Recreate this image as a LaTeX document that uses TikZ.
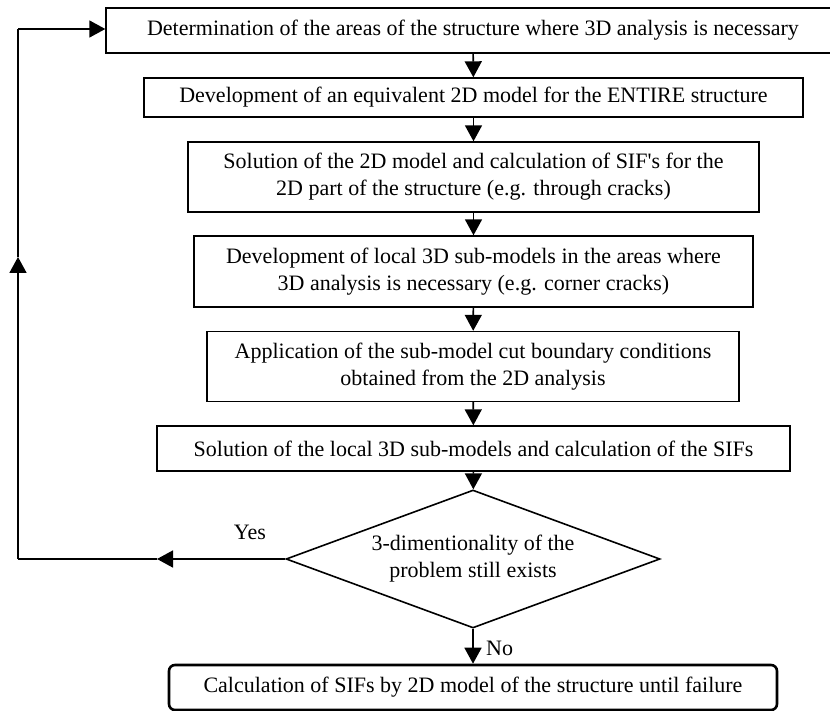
\documentclass[tikz,border=0pt]{standalone}
\usepackage{fontspec}
\setmainfont{Liberation Serif}
\usetikzlibrary{arrows.meta,shapes.geometric}

\begin{document}
\begin{tikzpicture}[x=1pt,y=-1pt,
        bx/.style={draw,line width=1.4pt,font=\fontsize{22}{27}\selectfont,
                   align=center,inner sep=0pt},
        dia/.style={diamond,draw,line width=1.6pt,aspect=2.7,inner sep=0pt,
                   minimum width=374pt,minimum height=138pt,
                   font=\fontsize{22}{27}\selectfont,align=center},
        lbl/.style={font=\fontsize{22}{26}\selectfont,inner sep=0pt},
        arr/.style={-{Triangle[length=16pt,width=17pt]},line width=1.6pt},
        ln/.style={line width=1.6pt}
      ]
        \clip (0,0) rectangle (830,711);
        \node[bx,minimum width=734pt,minimum height=45pt] (s1) at (473,30.5)
          {Determination of the areas of the structure where 3D analysis is necessary};
        \node[bx,minimum width=659pt,minimum height=39pt] (s2) at (473.5,97.5)
          {Development of an equivalent 2D model for the ENTIRE structure};
        \node[bx,minimum width=571pt,minimum height=70pt] (s3) at (473.5,177)
          {Solution of the 2D model and calculation of SIF\textquotesingle s for the\\2D part of the structure (e.g. through cracks)};
        \node[bx,minimum width=559pt,minimum height=71pt] (s4) at (473.5,271.5)
          {Development of local 3D sub-models in the areas where\\3D analysis is necessary (e.g. corner cracks)};
        \node[bx,minimum width=532pt,minimum height=70pt] (s5) at (473,366.5)
          {Application of the sub-model cut boundary conditions\\obtained from the 2D analysis};
        \node[bx,minimum width=633pt,minimum height=45pt] (s6) at (473.5,448.5)
          {Solution of the local 3D sub-models and calculation of the SIFs};
        \node[dia] (d) at (473,559) {3-dimentionality of the\\problem still exists};
        \node[bx,line width=2.6pt,rounded corners=6pt,minimum width=608pt,minimum height=45pt] (fin) at (473,687.5)
          {Calculation of SIFs by 2D model of the structure until failure};
        \draw[arr] (s1)--(s2); \draw[arr] (s2)--(s3);
        \draw[arr] (s3)--(s4); \draw[arr] (s4)--(s5);
        \draw[arr] (s5)--(s6); \draw[arr] (s6)--(d);
        \draw[arr] (d)--(fin);
        \node[lbl,anchor=west] (no) at (486,648) {No};
        % Yes loop back to the top
        \coordinate (yarr) at (157,559);
        \coordinate (ybot) at (18,559);
        \coordinate (uarr) at (18,257);
        \coordinate (ytop) at (18,29);
        \coordinate (s1in) at (s1.west |- ytop);
        \draw[arr] (d.west)--(yarr);
        \draw[ln] (yarr)--(ybot);
        \draw[arr] (ybot)--(uarr);
        \draw[ln] (uarr)--(ytop);
        \draw[arr] (ytop)--(s1in);
        \node[lbl] (yes) at (250,532) {Yes};
      \end{tikzpicture}
\end{document}
